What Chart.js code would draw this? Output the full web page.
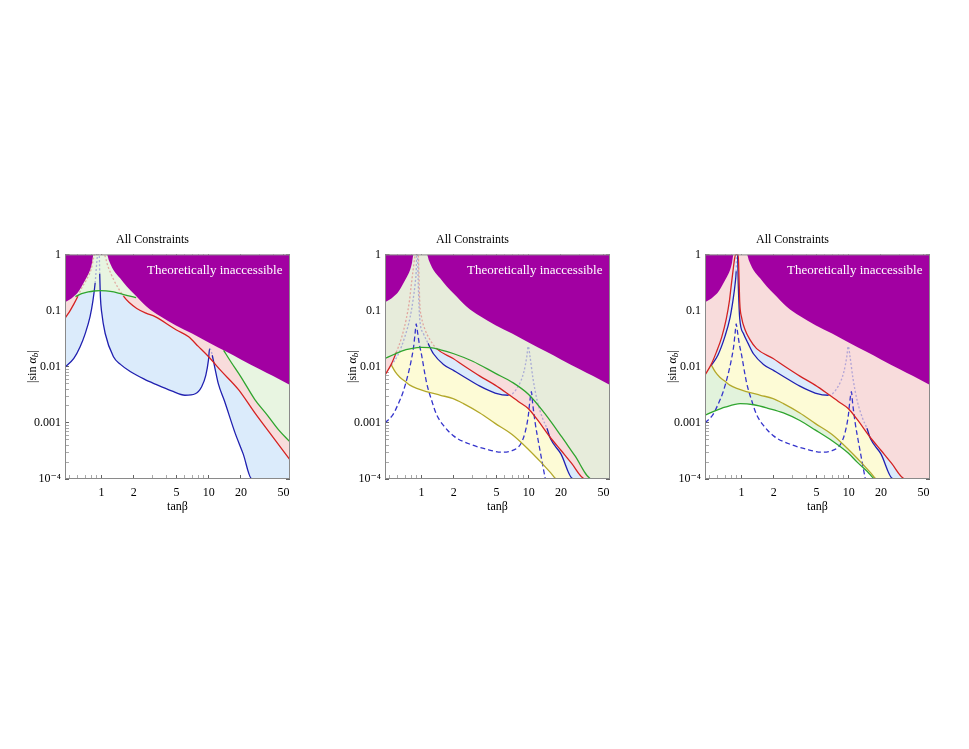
<!DOCTYPE html>
<html>
<head>
<meta charset="utf-8">
<title>All Constraints</title>
<script src="https://cdn.jsdelivr.net/npm/chart.js@4.4.1/dist/chart.umd.min.js"></script>
<style>
  body { margin: 0; background: #fff; }
  .panel { position: absolute; top: 222px; width: 290px; height: 300px; }
</style>
</head>
<body>
<div class="panel" style="left:15px"><canvas id="panel1"></canvas></div>
<div class="panel" style="left:335px"><canvas id="panel2"></canvas></div>
<div class="panel" style="left:655px"><canvas id="panel3"></canvas></div>
<script>
const SERIF = "'Liberation Serif', 'DejaVu Serif', serif";

// axes
const X_MIN = 0.455, X_MAX = 57.5;
const xMajorTicks = [1, 2, 5, 10, 20, 50];
const xMinorTicks = [0.5, 0.6, 0.7, 0.8, 0.9, 3, 4, 6, 7, 8, 9, 30, 40];
const yMajorTicks = [1e-4, 1e-3, 1e-2, 0.1, 1];
const yMajorLabels = ['10⁻⁴', '0.001', '0.01', '0.1', '1'];
const panelTitle = 'All Constraints';
const regionLabel = 'Theoretically inaccessible';
const regionLabelAt = [11.4, 0.514];

// theoretically inaccessible boundary (all panels)
const purpleX = [0.455, 0.5, 0.545, 0.6, 0.676, 0.73, 0.78, 0.815, 0.84, 1.12, 1.17, 1.22, 1.29, 1.49, 1.72, 2, 2.64, 3.5, 4.9, 7, 10, 15, 20, 30, 40, 57.5];
const purpleY = [0.14, 0.155, 0.177, 0.21, 0.307, 0.4, 0.53, 0.72, 1, 1, 0.78, 0.65, 0.53, 0.376, 0.267, 0.2, 0.117, 0.08, 0.055, 0.039, 0.027, 0.018, 0.0135, 0.009, 0.0068, 0.0047];

// panel 1
const p1BlueX = [0.455, 0.55, 0.63, 0.7, 0.78, 0.83, 0.87, 0.9, 0.92, 0.95, 0.96, 0.975, 1.0, 1.08, 1.29, 1.5, 1.85, 2.5, 3.16, 4.5, 6, 7.5, 8.6, 9.4, 9.96, 10.2, 10.45, 10.8, 11.5, 12.3, 14, 17.7, 21, 25.3, 57.5];
const p1BlueY = [0.0098, 0.014, 0.0226, 0.038, 0.078, 0.15, 0.31, 0.7, 1, 1, 0.45, 0.17, 0.095, 0.039, 0.015, 0.011, 0.0082, 0.006, 0.0049, 0.0037, 0.0031, 0.0033, 0.0044, 0.007, 0.0132, 0.021, 0.02, 0.016, 0.009, 0.005, 0.0025, 0.00065, 0.00028, 0.0001, 0.0001];
const p1RedX = [0.455, 0.5, 0.55, 0.6, 0.65, 0.72, 0.8, 0.84, 0.86, 1.05, 1.15, 1.3, 1.45, 1.6, 1.8, 2.13, 2.6, 3.16, 5, 6.5, 8, 10, 13, 19, 27, 40, 57.5];
const p1RedY = [0.073, 0.095, 0.13, 0.18, 0.25, 0.35, 0.55, 0.85, 1, 1, 0.6, 0.35, 0.24, 0.18, 0.14, 0.109, 0.09, 0.078, 0.045, 0.034, 0.023, 0.015, 0.0085, 0.0039, 0.0015, 0.00055, 0.00022];
const p1GreenArcX = [0.57, 0.65, 0.75, 0.85, 0.97, 1.1, 1.3, 1.5, 1.75, 2.1];
const p1GreenArcY = [0.177, 0.2, 0.215, 0.223, 0.226, 0.224, 0.215, 0.2, 0.185, 0.17];
const p1GreenTailX = [13.8, 16, 20, 27, 35, 45, 57.5];
const p1GreenTailY = [0.0196, 0.0125, 0.0066, 0.0026, 0.0014, 0.00075, 0.00046];

// panels 2 and 3 (shared curves)
const redX = [0.453, 0.52, 0.58, 0.65, 0.72, 0.77, 0.8, 0.83, 0.86, 0.88, 0.93, 0.945, 0.96, 1.0, 1.07, 1.2, 1.38, 1.97, 2.46, 3.5, 4.86, 6.5, 8, 9.9, 12, 15.8, 20, 25, 33.8, 57.5];
const redY = [0.007, 0.011, 0.018, 0.033, 0.072, 0.15, 0.28, 0.5, 0.84, 1, 1, 0.4, 0.142, 0.075, 0.047, 0.03, 0.021, 0.014, 0.0105, 0.0068, 0.0047, 0.0032, 0.0024, 0.0018, 0.00115, 0.00056, 0.000325, 0.000194, 0.0001, 0.0001];
const blueX = [0.52, 0.6, 0.7, 0.78, 0.83, 0.87, 0.89, 0.9, 0.915, 0.93, 0.96, 1.04, 1.15, 1.29, 1.6, 2, 2.46, 3.5, 4.86, 6.5, 8, 9, 9.6, 9.9, 10.3, 11, 12, 13.5, 14.8, 16, 20, 26, 57.5];
const blueY = [0.0105, 0.016, 0.035, 0.075, 0.15, 0.3, 0.5, 1, 1, 0.3, 0.072, 0.039, 0.026, 0.017, 0.011, 0.0085, 0.0067, 0.0045, 0.0034, 0.0031, 0.0045, 0.008, 0.015, 0.023, 0.015, 0.006, 0.0025, 0.0012, 0.0008, 0.00052, 0.00028, 0.0001, 0.0001];
const yellowX = [0.52, 0.57, 0.626, 0.7, 0.776, 0.9, 1.11, 1.5, 1.97, 2.46, 3.5, 4.86, 7, 9.9, 13, 16, 18.3, 57.5];
const yellowY = [0.0108, 0.008, 0.0065, 0.0055, 0.0047, 0.0041, 0.0036, 0.0031, 0.0027, 0.0022, 0.0015, 0.00098, 0.00062, 0.00034, 0.0002, 0.00013, 0.0001, 0.0001];
const dashX = [0.455, 0.54, 0.6, 0.67, 0.75, 0.8, 0.84, 0.87, 0.89, 0.91, 0.95, 1.0, 1.11, 1.25, 1.38, 1.6, 2, 3, 4, 5.6, 7, 8, 8.6, 9.3, 9.9, 10.3, 10.6, 10.9, 11.5, 12.5, 13.5, 14.3];
const dashY = [0.001, 0.0014, 0.0021, 0.0035, 0.0075, 0.013, 0.022, 0.04, 0.058, 0.045, 0.026, 0.016, 0.0053, 0.0024, 0.0014, 0.0009, 0.00058, 0.0004, 0.00034, 0.0003, 0.00032, 0.00037, 0.00045, 0.0007, 0.0013, 0.0026, 0.0036, 0.0022, 0.001, 0.0004, 0.00018, 0.0001];
const p2GreenX = [0.455, 0.55, 0.65, 0.8, 1.0, 1.2, 1.5, 2, 3, 4.9, 7, 10, 14, 20.4, 27, 39, 57.5];
const p2GreenY = [0.014, 0.0165, 0.019, 0.021, 0.022, 0.0218, 0.02, 0.017, 0.0125, 0.0076, 0.0053, 0.0032, 0.0015, 0.00056, 0.00026, 0.0001, 0.0001];
const p3GreenX = [0.455, 0.55, 0.7, 0.97, 1.3, 1.8, 2.46, 3.5, 4.86, 7, 9.9, 12, 15, 17.7, 57.5];
const p3GreenY = [0.00137, 0.0016, 0.0019, 0.0022, 0.0021, 0.0018, 0.0015, 0.0011, 0.00075, 0.00048, 0.00029, 0.0002, 0.000135, 0.0001, 0.0001];

const C = {
  purple: '#a200a2',
  blueFill: '#dbebfb', pinkFill: '#f8dcdc', greenFill1: '#e8f5e1', greenFill2: '#e7ecdb',
  greenFill3: '#e2f3dc', yellowFill: '#fdfbd6',
  blue: '#2020b0', red: '#d42222', green: '#2fa52f', yellow: '#b3a82a', dash: '#3535cc',
  blueFaint: 'rgba(110,110,210,0.5)', redFaint: 'rgba(220,110,110,0.55)'
};

const pts = (xs, ys) => xs.map((x, i) => ({x, y: ys[i]}));
const gapJoin = (a, b) => [...a, {x: 5, y: null}, ...b];

function fillSet(data, color) {
  return { data, fill: 'end', backgroundColor: color, borderWidth: 0, pointRadius: 0,
           cubicInterpolationMode: 'monotone' };
}

function lineSet(data, color, faint = [], faintColor = null, dash = []) {
  const isFaint = c => faint.some(b => c.p0.parsed.x >= b[0] && c.p1.parsed.x <= b[1] &&
    Math.min(c.p0.parsed.y, c.p1.parsed.y) >= b[2]);
  return {
    data, fill: false, borderColor: color, borderWidth: 1.3, borderDash: dash,
    pointRadius: 0, cubicInterpolationMode: 'monotone',
    segment: {
      borderColor: c => isFaint(c) ? faintColor : undefined,
      borderDash: c => isFaint(c) ? [2, 2] : undefined
    }
  };
}

const decor = {
  id: 'decor',
  afterDatasetsDraw(chart) {
    const {ctx, chartArea: a, scales: {x, y}} = chart;
    ctx.save();
    ctx.fillStyle = '#fff';
    ctx.font = '13px ' + SERIF;
    ctx.textAlign = 'center';
    ctx.textBaseline = 'middle';
    ctx.fillText(regionLabel, x.getPixelForValue(regionLabelAt[0]), y.getPixelForValue(regionLabelAt[1]));
    ctx.strokeStyle = '#8a8a8a';
    ctx.lineWidth = 1;
    ctx.strokeRect(a.left + 0.5, a.top + 0.5, a.width - 1, a.height - 1);
    ctx.restore();
  },
  afterDraw(chart) {
    // |sin α_b| rotated, with italic alpha and subscript b
    const {ctx, chartArea: a} = chart;
    const parts = [['|sin ', '', 12, 0], ['α', 'italic ', 12, 0], ['b', 'italic ', 9, 3], ['|', '', 12, 0]];
    ctx.save();
    ctx.translate(a.left - 32, (a.top + a.bottom) / 2);
    ctx.rotate(-Math.PI / 2);
    ctx.fillStyle = '#000';
    ctx.textBaseline = 'middle';
    ctx.textAlign = 'left';
    let w = 0;
    parts.forEach(p => { ctx.font = p[1] + p[2] + 'px ' + SERIF; w += ctx.measureText(p[0]).width; });
    let cx = -w / 2;
    parts.forEach(p => {
      ctx.font = p[1] + p[2] + 'px ' + SERIF;
      ctx.fillText(p[0], cx, p[3]);
      cx += ctx.measureText(p[0]).width;
    });
    ctx.restore();
  }
};

const yMinorTicks = [];
for (let k = -4; k < 0; k++) for (let m = 2; m <= 9; m++) yMinorTicks.push(m * Math.pow(10, k));
const xAllTicks = [...xMinorTicks, ...xMajorTicks].sort((p, q) => p - q);
const yAllTicks = [...yMinorTicks, ...yMajorTicks].sort((p, q) => p - q);

const tickGrid = majors => ({
  drawOnChartArea: false, tickLength: -4,
  color: c => majors.includes(c.tick && c.tick.value) ? '#666' : '#aaa'
});

function makeChart(id, datasets) {
  return new Chart(document.getElementById(id), {
    type: 'line',
    data: { datasets },
    plugins: [decor],
    options: {
      responsive: true, maintainAspectRatio: false, animation: false,
      layout: { padding: { top: 0, right: 15, bottom: 5, left: 0 } },
      plugins: {
        legend: { display: false },
        tooltip: { enabled: false },
        filler: { drawTime: 'beforeDatasetsDraw' },
        title: { display: true, text: panelTitle, color: '#000',
                 font: { family: SERIF, size: 12, weight: 'normal' }, padding: { top: 11, bottom: 7 } }
      },
      scales: {
        x: {
          type: 'logarithmic', min: X_MIN, max: X_MAX, z: 1,
          afterBuildTicks: s => { s.ticks = xAllTicks.map(v => ({value: v})); },
          afterFit: s => { s.height = 38; },
          ticks: { autoSkip: false, maxRotation: 0, padding: 11, color: '#000',
                   font: { family: SERIF, size: 12 },
                   callback: v => xMajorTicks.includes(v) ? String(v) : '' },
          grid: tickGrid(xMajorTicks),
          border: { display: false },
          title: { display: true, text: 'tanβ', color: '#000', font: { family: SERIF, size: 12 },
                   padding: { top: 0, bottom: 3 } }
        },
        xTop: {
          type: 'logarithmic', position: 'top', min: X_MIN, max: X_MAX, z: 1,
          afterBuildTicks: s => { s.ticks = xAllTicks.map(v => ({value: v})); },
          afterFit: s => { s.height = 0; },
          ticks: { display: false },
          grid: tickGrid(xMajorTicks),
          border: { display: false }
        },
        y: {
          type: 'logarithmic', min: 1e-4, max: 1, z: 1,
          afterBuildTicks: s => { s.ticks = yAllTicks.map(v => ({value: v})); },
          afterFit: s => { s.width = 50; },
          ticks: { autoSkip: false, padding: 8, color: '#000', font: { family: SERIF, size: 12 },
                   callback: v => { const i = yMajorTicks.indexOf(v); return i >= 0 ? yMajorLabels[i] : ''; } },
          grid: tickGrid(yMajorTicks),
          border: { display: false }
        },
        yRight: {
          type: 'logarithmic', position: 'right', min: 1e-4, max: 1, z: 1,
          afterBuildTicks: s => { s.ticks = yAllTicks.map(v => ({value: v})); },
          afterFit: s => { s.width = 0; },
          ticks: { display: false },
          grid: tickGrid(yMajorTicks),
          border: { display: false }
        }
      }
    }
  });
}

// fills listed top layer first, then lines
makeChart('panel1', [
  fillSet(pts(purpleX, purpleY), C.purple),
  fillSet(gapJoin(pts(p1GreenArcX, p1GreenArcY), pts(p1GreenTailX, p1GreenTailY)), C.greenFill1),
  fillSet(pts(p1RedX, p1RedY), C.pinkFill),
  fillSet(pts(p1BlueX, p1BlueY), C.blueFill),
  lineSet(gapJoin(pts(p1GreenArcX, p1GreenArcY), pts(p1GreenTailX, p1GreenTailY)), C.green),
  lineSet(pts(p1RedX, p1RedY), C.red, [[0.58, 1.65, 0.17]], C.redFaint),
  lineSet(pts(p1BlueX, p1BlueY), C.blue, [[0.8, 1.05, 0.2], [9.8, 11, 0.0145]], C.blueFaint)
]);

makeChart('panel2', [
  fillSet(pts(purpleX, purpleY), C.purple),
  fillSet(pts(p2GreenX, p2GreenY), C.greenFill2),
  fillSet(pts(redX, redY), C.pinkFill),
  fillSet(pts(blueX, blueY), C.blueFill),
  fillSet(pts(yellowX, yellowY), C.yellowFill),
  lineSet(pts(p2GreenX, p2GreenY), C.green),
  lineSet(pts(redX, redY), C.red, [[0.57, 1.4, 0.016]], C.redFaint),
  lineSet(pts(blueX, blueY), C.blue, [[0.5, 1.2, 0], [6.4, 15.6, 0]], C.blueFaint),
  lineSet(pts(yellowX, yellowY), C.yellow),
  lineSet(pts(dashX, dashY), C.dash, [], null, [5, 3])
]);

makeChart('panel3', [
  fillSet(pts(purpleX, purpleY), C.purple),
  fillSet(pts(redX, redY), C.pinkFill),
  fillSet(pts(blueX, blueY), C.blueFill),
  fillSet(pts(yellowX, yellowY), C.yellowFill),
  fillSet(pts(p3GreenX, p3GreenY), C.greenFill3),
  lineSet(pts(redX, redY), C.red),
  lineSet(pts(blueX, blueY), C.blue, [[0.85, 0.96, 0.33], [6.4, 15.6, 0]], C.blueFaint),
  lineSet(pts(yellowX, yellowY), C.yellow),
  lineSet(pts(p3GreenX, p3GreenY), C.green),
  lineSet(pts(dashX, dashY), C.dash, [], null, [5, 3])
]);
</script>
</body>
</html>
